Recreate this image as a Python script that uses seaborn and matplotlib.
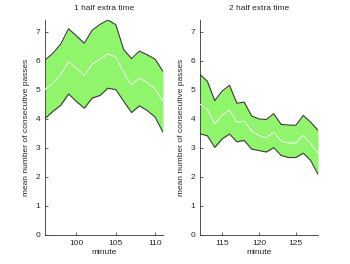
import numpy as np
import pandas as pd
import seaborn as sns
import matplotlib
matplotlib.use("Agg")
import matplotlib.pyplot as plt

minutes1 = list(range(96, 112))
upper1 = [6.02, 6.25, 6.57, 7.1, 6.85, 6.6, 7.05, 7.25, 7.4, 7.24, 6.38, 6.07, 6.33, 6.2, 6.05, 5.63]
mean1 = [5.0, 5.23, 5.52, 5.97, 5.75, 5.48, 5.88, 6.05, 6.23, 6.13, 5.6, 5.15, 5.4, 5.24, 5.03, 4.59]
lower1 = [4.0, 4.25, 4.46, 4.85, 4.59, 4.36, 4.71, 4.8, 5.05, 5.0, 4.6, 4.21, 4.44, 4.28, 4.05, 3.53]

minutes2 = list(range(112, 129))
upper2 = [5.52, 5.29, 4.62, 4.95, 5.15, 4.53, 4.57, 4.09, 3.99, 3.97, 4.17, 3.8, 3.78, 3.77, 4.11, 3.88, 3.6]
mean2 = [4.5, 4.3, 3.82, 4.12, 4.3, 3.88, 3.91, 3.58, 3.42, 3.34, 3.54, 3.23, 3.16, 3.16, 3.42, 3.14, 2.81]
lower2 = [3.48, 3.41, 3.01, 3.3, 3.47, 3.2, 3.25, 2.95, 2.9, 2.85, 3.0, 2.73, 2.66, 2.66, 2.81, 2.56, 2.08]

titles = ["1 half extra time", "2 half extra time"]
xticks = [[100, 105, 110], [115, 120, 125]]
yticks = [0, 1, 2, 3, 4, 5, 6, 7]

sns.set_style("ticks")
plt.rcParams['font.family'] = ['Liberation Sans', 'DejaVu Sans']

fig = plt.figure(figsize=(3.5, 2.64), dpi=100)
ymax = max(max(upper1), max(upper2))
positions = [[45/350, 29.3/264, 118/350, 214.7/264], [200/350, 29.3/264, 118/350, 214.7/264]]
fill_color = "#8ff56b"
text_color = "#262626"
fs = 6

for i, (mins, up, mn, lo) in enumerate([(minutes1, upper1, mean1, lower1),
                                         (minutes2, upper2, mean2, lower2)]):
    ax = fig.add_axes(positions[i])
    df = pd.DataFrame({"minute": mins, "mean": mn, "upper": up, "lower": lo})
    ax.fill_between(df["minute"], df["lower"], df["upper"], color=fill_color, linewidth=0, zorder=1)
    sns.lineplot(data=df, x="minute", y="upper", ax=ax, color="#3a3a3a", linewidth=0.8, zorder=2)
    sns.lineplot(data=df, x="minute", y="lower", ax=ax, color="#3a3a3a", linewidth=0.8, zorder=2)
    sns.lineplot(data=df, x="minute", y="mean", ax=ax, color="white", linewidth=0.7, zorder=3)
    ax.set_xlim(mins[0], mins[-1])
    ax.set_ylim(0, ymax)
    ax.set_xticks(xticks[i])
    ax.set_yticks(yticks)
    ax.tick_params(direction="in", length=2.5, width=0.5, labelsize=fs, colors=text_color, pad=3.5)
    for s in ["top", "right"]:
        ax.spines[s].set_visible(False)
    for s in ["left", "bottom"]:
        ax.spines[s].set_linewidth(0.6)
        ax.spines[s].set_color("#333333")
    ax.set_xlabel("minute", fontsize=fs, color=text_color, labelpad=2)
    ax.set_ylabel("mean number of consecutive passes", fontsize=fs, color=text_color, labelpad=4)
    ax.set_title(titles[i], fontsize=fs, color=text_color, pad=7)

fig.savefig("out.png", dpi=100)
